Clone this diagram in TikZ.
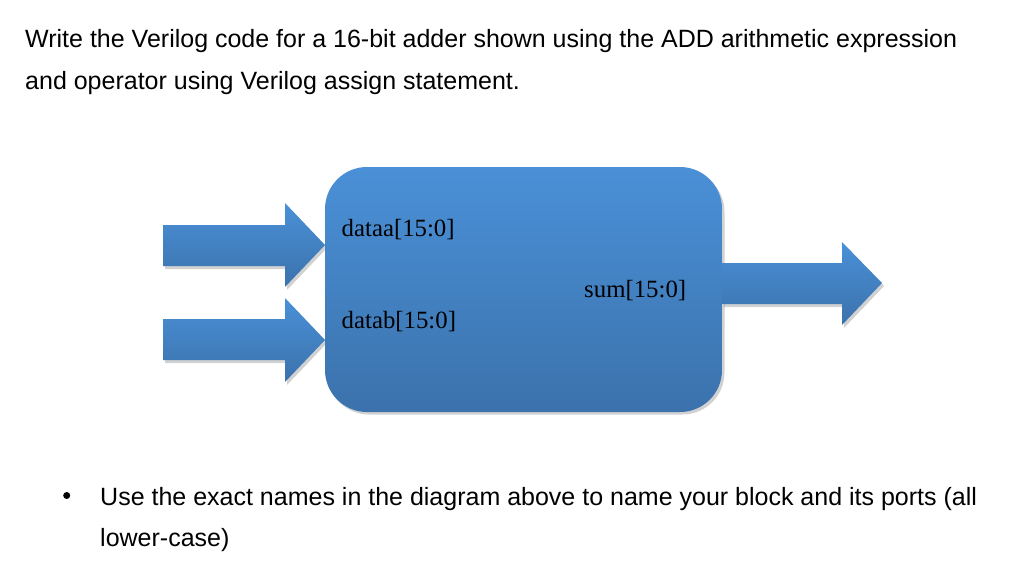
\documentclass[tikz,border=0pt]{standalone}
\usepackage{fontspec}
\setmainfont{Liberation Serif}
\newfontfamily\arialfont{Liberation Sans}
\usetikzlibrary{calc}
\definecolor{blueTop}{HTML}{4A90D7}
\definecolor{blueBot}{HTML}{3B72AC}
\tikzset{
  bluefill/.style={top color=blueTop, bottom color=blueBot, draw=none},
  shadowfill/.style={fill=black, opacity=0.18, draw=none},
  prose/.style={anchor=base west, inner sep=0pt, font=\arialfont\fontsize{25}{30}\selectfont, text=black},
  port/.style={anchor=base west, inner sep=0pt, font=\fontsize{24.8}{29}\selectfont, text=black},
}
\begin{document}
\begin{tikzpicture}[x=1pt,y=-1pt]
\useasboundingbox[fill=white] (0,0) rectangle (1024,562);
% text
\node[prose] (t1) at (25,47) {Write the Verilog code for a 16-bit adder shown using the ADD arithmetic expression};
\node[prose] (t2) at (25,89) {and operator using Verilog assign statement.};
\node[circle, fill=black, inner sep=0pt, minimum size=7pt] (bul) at (66.7,495.5) {};
\node[prose] (b1) at (100,505) {Use the exact names in the diagram above to name your block and its ports (all};
\node[prose] (b2) at (100,546.5) {lower-case)};
% shadows
\fill[shadowfill, rounded corners=42] (327,170) rectangle (724.5,414.5);
\fill[shadowfill] (165,228) -- (287,228) -- (287,206) -- (327,248) -- (287,290) -- (287,269) -- (165,269) -- cycle;
\fill[shadowfill] (165,322) -- (287,322) -- (287,301) -- (327,343) -- (287,385) -- (287,363) -- (165,363) -- cycle;
\fill[shadowfill] (724,266) -- (844,266) -- (844,245) -- (884,286) -- (844,328) -- (844,307) -- (724,307) -- cycle;
% block
\path[bluefill, rounded corners=42] (325,167) rectangle (722,412);
\coordinate (blk) at (523.5,289.5);
% input arrows
\path[bluefill] (163,225) -- (285,225) -- (285,203) -- (325,245) -- (285,287) -- (285,266) -- (163,266) -- cycle;
\coordinate (ina) at (325,245);
\path[bluefill] (163,319) -- (285,319) -- (285,298) -- (325,340) -- (285,382) -- (285,360) -- (163,360) -- cycle;
\coordinate (inb) at (325,340);
% output arrow
\path[bluefill] (722,263) -- (842,263) -- (842,242) -- (882,283) -- (842,325) -- (842,304) -- (722,304) -- cycle;
\coordinate (out) at (882,283);
% port labels
\node[port] (pa) at (341.5,236.7) {dataa[15:0]};
\node[port] (pb) at (341.5,328) {datab[15:0]};
\node[port] (ps) at (584,297) {sum[15:0]};
\end{tikzpicture}
\end{document}
